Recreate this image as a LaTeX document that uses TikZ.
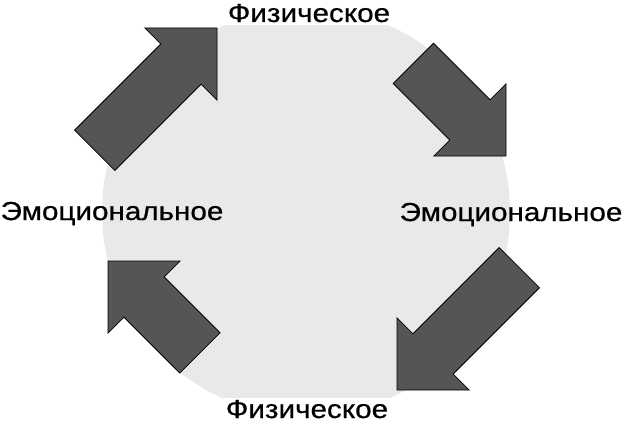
\documentclass[tikz,border=0pt]{standalone}
\usepackage{fontspec}
\setmainfont{Liberation Sans}
\newfontfamily\labelfont[FakeBold=0.6]{Liberation Sans}
\usepackage{xcolor}
\definecolor{cycleGray}{RGB}{232, 233, 235}
\definecolor{arrowGray}{RGB}{85, 85, 85}
\tikzset{
    backdrop/.style={fill=cycleGray, draw=none},
    blockArrow/.style={fill=arrowGray, draw=black, line width=0.8pt, line join=miter},
    stateLabel/.style={font=\labelfont\fontsize{26}{30}\selectfont, xscale=1.14, anchor=base, inner sep=3pt}
}
% #1 tip, #2 direction, #3 shaft length
\newcommand{\blockarrow}[3]{%
    \draw[blockArrow, shift={(#1)}, rotate=#2]
        (0,0) -- (-51,51) -- (-51,28.5) -- ({-51-#3},28.5)
        -- ({-51-#3},-28.5) -- (-51,-28.5) -- (-51,-51) -- cycle;}

\begin{document}
\begin{tikzpicture}[x=1pt, y=1pt]
    \useasboundingbox (0,0) rectangle (624,424);

    % Draw the light circle behind everything
    \fill[backdrop] (306,212) circle (204);

    % Labels at the four sides
    \node[stateLabel, fill=white] (topPhys) at (309,402) {Физическое};
    \node[stateLabel, fill=white, inner sep=1.5pt] (bottomPhys) at (307,6) {Физическое};
    \node[stateLabel] (leftEmo) at (112,204) {Эмоциональное};
    \node[stateLabel] (rightEmo) at (511,203) {Эмоциональное};

    % Tips of the four arrows
    \coordinate (tipNW) at (217,396);
    \coordinate (tipNE) at (506,268);
    \coordinate (tipSE) at (397,34);
    \coordinate (tipSW) at (108,163);

    % Draw the arrows going round the circle
    \blockarrow{tipNW}{45}{122}
    \blockarrow{tipNE}{-45}{80}
    \blockarrow{tipSE}{-135}{122}
    \blockarrow{tipSW}{135}{79}
\end{tikzpicture}
\end{document}
